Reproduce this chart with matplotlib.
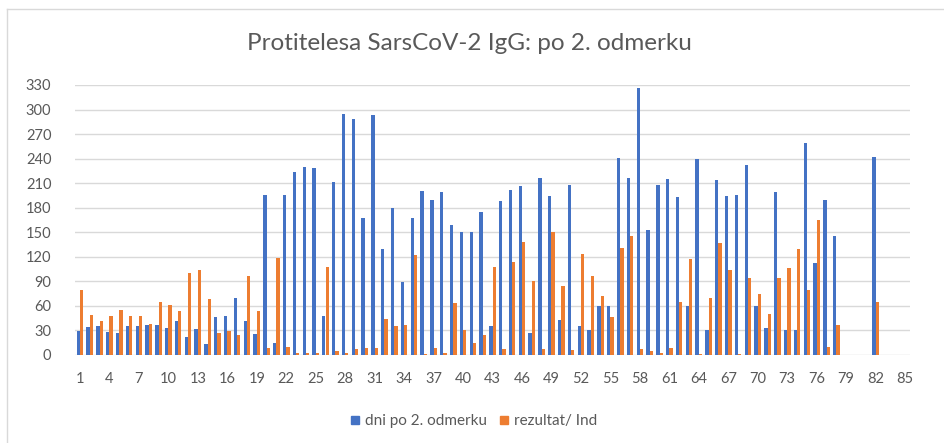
import numpy as np
import matplotlib.pyplot as plt
from matplotlib.lines import Line2D

nan = np.nan

categories = list(range(1, 86))

dni = [29, 34, 35, 28, 27, 36, 36, 37, 37, 33,
       42, 22, 32, 13, 47, 48, 70, 41, 26, 196,
       15, 196, 224, 230, 228, 48, 212, 294, 288, 168,
       293, 129, 180, 89, 168, 200, 189, 199, 159, 150,
       150, 175, 36, 188, 202, 206, 27, 216, 194, 43,
       208, 36, 31, 60, 60, 241, 216, 326, 153, 208,
       215, 193, 60, 239, 30, 214, 194, 196, 232, 60,
       33, 199, 30, 30, 259, 112, 189, 145, nan, nan,
       nan, 242, nan, nan, nan]

rezultat = [79, 49, 42, 48, 55, 48, 48, 38, 65, 61,
            54, 100, 104, 68, 27, 29, 24, 97, 54, 9,
            118, 10, 3, 3, 3, 108, 5, 3, 7, 8,
            8, 44, 35, 37, 122, 1, 8, 3, 63, 31,
            15, 25, 107, 7, 114, 138, 90, 7, 150, 84,
            6, 123, 96, 72, 47, 131, 146, 7, 5, 2.5,
            9, 65, 117, 1, 70, 137, 104, 1, 94, 75,
            50, 94, 106, 130, 79, 165, 10, 37, nan, nan,
            nan, 65, nan, nan, nan]

y_ticks = list(range(0, 331, 30))
x_ticks = list(range(1, 86, 3))

title = 'Protitelesa SarsCoV-2 IgG: po 2. odmerku'
series_names = ['dni po 2. odmerku', 'rezultat/ Ind']
blue = '#4472C4'
orange = '#ED7D31'
grey_text = '#595959'
grid_col = '#D9D9D9'

plt.rcParams['font.family'] = ['Lato', 'DejaVu Sans']

fig = plt.figure(figsize=(9.44, 4.43), dpi=100)
ax = fig.add_axes([75 / 944, 1 - 355 / 443, 835 / 944, 270 / 443])

x = np.array(categories)
w = 0.34
ax.bar(x - w / 2, dni, width=w, color=blue, label=series_names[0])
ax.bar(x + w / 2, rezultat, width=w, color=orange, label=series_names[1])

ax.set_xlim(0.5, 85.5)
ax.set_ylim(0, 330)
ax.set_yticks(y_ticks)
ax.set_xticks(x_ticks)
ax.set_axisbelow(True)
ax.grid(axis='y', color=grid_col, linewidth=1)
for s in ax.spines.values():
    s.set_visible(False)
ax.tick_params(length=0, colors=grey_text, labelsize=10.5)
ax.tick_params(axis='y', pad=17)
ax.tick_params(axis='x', pad=12)

fig.text(0.497, 1 - 44 / 443, title, ha='center', va='center',
         fontsize=17.5, color=grey_text)

handles = [Line2D([], [], marker='s', linestyle='', color=blue, markersize=6),
           Line2D([], [], marker='s', linestyle='', color=orange, markersize=6)]
fig.legend(handles, series_names, loc='center', bbox_to_anchor=(0.5, 1 - 421 / 443),
           ncol=2, frameon=False, fontsize=11, labelcolor=grey_text,
           handletextpad=0.15, columnspacing=0.6, handlelength=1)

# chart frame (only left and top edges show in the crop)
fig.add_artist(Line2D([6.5 / 944, 6.5 / 944], [0, 1 - 8.5 / 443], color=grid_col,
                      linewidth=1, transform=fig.transFigure))
fig.add_artist(Line2D([6.5 / 944, 1], [1 - 8.5 / 443, 1 - 8.5 / 443], color=grid_col,
                      linewidth=1, transform=fig.transFigure))

fig.savefig('out.png', dpi=100)
